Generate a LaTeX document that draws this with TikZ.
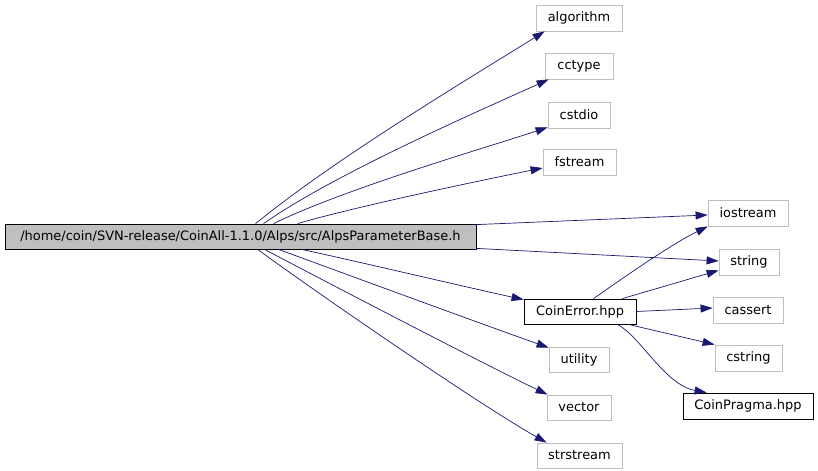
\documentclass[tikz,border=0pt]{standalone}
\usepackage{fontspec}
\setmainfont{DejaVu Sans}
\usetikzlibrary{arrows.meta,calc}
\definecolor{edgecol}{HTML}{191970}
\definecolor{graybd}{HTML}{BFBFBF}
\tikzset{
  box/.style={draw=graybd, line width=0.8bp, rectangle, inner sep=0pt, font=\fontsize{13}{15}\selectfont, text=black},
  blackbox/.style={box, draw=black},
  mainbox/.style={box, draw=black, fill=graybd},
  edge/.style={draw=edgecol, line width=0.7bp, -{Triangle[length=12bp,width=8bp]}, color=edgecol}
}
\begin{document}
\begin{tikzpicture}[x=1bp,y=-1bp]
\useasboundingbox (0,0) rectangle (818,471);
\node[mainbox, minimum width=471bp, minimum height=25bp] (main) at (240.5,236.5) {/home/coin/SVN-release/CoinAll-1.1.0/Alps/src/AlpsParameterBase.h};
\node[box, minimum width=86bp, minimum height=26bp] (algorithm) at (579,18) {algorithm};
\node[box, minimum width=68bp, minimum height=26bp] (cctype) at (579,66) {cctype};
\node[box, minimum width=62bp, minimum height=26bp] (cstdio) at (579,115) {cstdio};
\node[box, minimum width=73bp, minimum height=26bp] (fstream) at (579.5,162) {fstream};
\node[box, minimum width=80bp, minimum height=26bp] (iostream) at (748,213) {iostream};
\node[box, minimum width=60bp, minimum height=26bp] (string) at (749,262) {string};
\node[blackbox, minimum width=112bp, minimum height=25bp] (coinerror) at (580,311.5) {CoinError.hpp};
\node[box, minimum width=70bp, minimum height=26bp] (cassert) at (748,310) {cassert};
\node[box, minimum width=67bp, minimum height=26bp] (cstring) at (748.5,358) {cstring};
\node[blackbox, minimum width=130bp, minimum height=26bp] (coinpragma) at (748,406) {CoinPragma.hpp};
\node[box, minimum width=60bp, minimum height=25bp] (utility) at (579,359.5) {utility};
\node[box, minimum width=64bp, minimum height=25bp] (vector) at (579,407.5) {vector};
\node[box, minimum width=85bp, minimum height=25bp] (strstream) at (579.5,455.5) {strstream};

% edges from main (top)
\draw[edge] ($(main.north west)+(251,0)$) .. controls (336,158) and (465,81) .. ($(algorithm.south west)+(9,0)$);
\draw[edge] ($(main.north west)+(259,0)$) .. controls (334,174) and (479,111) .. ($(cctype.south west)+(4,0)$);
\draw[edge] ($(main.north west)+(269,0)$) .. controls (344,189) and (488,147) .. ($(cstdio.south west)+(0,-1)$);
\draw[edge] ($(main.north west)+(293,0)$) .. controls (358,206) and (483,180) .. ($(fstream.west)+(0,6)$);
\draw[edge] ($(main.north east)+(0,1)$) -- ($(iostream.west)+(0,2)$);
\draw[edge] ($(main.south east)+(0,-1)$) -- ($(string.west)+(0,-1)$);
% edges from main (bottom)
\draw[edge] ($(main.south west)+(297,0)$) .. controls (360,262) and (470,288) .. ($(coinerror.north west)+(0,1)$);
\draw[edge] ($(main.south west)+(274,0)$) .. controls (340,272) and (490,327) .. ($(utility.north west)+(0,1)$);
\draw[edge] ($(main.south west)+(260,0)$) .. controls (330,284) and (490,367) .. ($(vector.north west)+(1,0)$);
\draw[edge] ($(main.south west)+(253,0)$) .. controls (320,295) and (480,405) .. ($(strstream.north west)+(10,0)$);
% edges from CoinError.hpp
\draw[edge] ($(coinerror.north west)+(70,0)$) .. controls (620,280) and (670,245) .. (iostream.south west);
\draw[edge] ($(coinerror.north east)+(-14,0)$) -- ($(string.south west)+(0,-5)$);
\draw[edge] (coinerror.east) -- ($(cassert.west)+(0,-2)$);
\draw[edge] ($(coinerror.south east)+(-8,0)$) -- (cstring.north west);
\draw[edge] ($(coinerror.south east)+(-19,0)$) .. controls (640,336) and (665,385) .. ($(coinpragma.north west)+(24,0)$);
\end{tikzpicture}
\end{document}
